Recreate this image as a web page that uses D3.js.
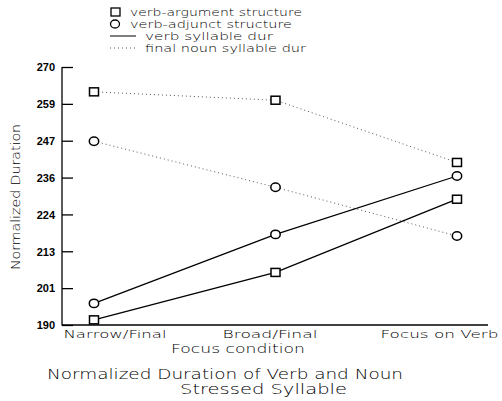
<!DOCTYPE html>
<html><head><meta charset="utf-8">
<script src="https://cdn.jsdelivr.net/npm/d3@7"></script>
<style>body{margin:0;background:#fff}svg{display:block}text{font-family:"DejaVu Sans",sans-serif;font-weight:200;fill:#000}</style>
</head><body>
<script>
const categories = ["Narrow/Final", "Broad/Final", "Focus on Verb"];
const verbArgVerb = [191.6, 206.3, 229.0];
const verbAdjVerb = [196.7, 218.1, 236.2];
const verbArgNoun = [262.3, 259.7, 240.4];
const verbAdjNoun = [247.0, 232.7, 217.6];
const yTickValues = [190, 201.43, 212.86, 224.29, 235.71, 247.14, 258.57, 270];
const yTickLabels = ["190", "201", "213", "224", "236", "247", "259", "270"];

const series = [
  {values: verbArgNoun, marker: "square", dotted: true},
  {values: verbAdjNoun, marker: "circle", dotted: true},
  {values: verbAdjVerb, marker: "circle", dotted: false},
  {values: verbArgVerb, marker: "square", dotted: false}
];

const W = 502, H = 401;
const svg = d3.select("body").append("svg").attr("width", W).attr("height", H);

const x = d3.scalePoint().domain(categories).range([94, 457]);
const y = d3.scaleLinear().domain([190, 270]).range([325, 67]);

// y axis
const yAxis = d3.axisRight(y).tickValues(yTickValues).tickSize(11)
  .tickFormat((d, i) => yTickLabels[i]);
const gy = svg.append("g").attr("transform", "translate(62,0)").call(yAxis);
gy.select(".domain").attr("stroke", "#000").attr("stroke-width", 1.3).attr("d", "M0,67V325.5");
gy.selectAll(".tick line").attr("stroke", "#000").attr("stroke-width", 1.3);
gy.selectAll(".tick text").attr("x", -7).attr("dy", "0.35em").attr("text-anchor", "end")
  .style("font-size", "11px").style("font-weight", "bold").style("font-family", "Liberation Sans, sans-serif");

// x axis
const xAxis = d3.axisBottom(x).tickSize(0);
const gx = svg.append("g").attr("transform", "translate(0,325)").call(xAxis);
gx.select(".domain").attr("stroke", "#000").attr("stroke-width", 1.3).attr("d", "M62,0H488");
const xLabelLeft = [63, 222, 380], xLabelWidth = [103, 95, 118];
gx.selectAll(".tick text").attr("y", 13).attr("dy", 0).style("font-size", "10.5px")
  .each(function(d, i) {
    d3.select(this).attr("text-anchor", "start").attr("x", xLabelLeft[i] - x(d))
      .attr("textLength", xLabelWidth[i]).attr("lengthAdjust", "spacingAndGlyphs");
  });

// lines
const line = d3.line().x((d, i) => x(categories[i])).y(d => y(d));
series.forEach(s => {
  svg.append("path").datum(s.values).attr("d", line).attr("fill", "none")
    .attr("stroke", s.dotted ? "#555" : "#000")
    .attr("stroke-width", s.dotted ? 1 : 1.3)
    .attr("stroke-dasharray", s.dotted ? "1,3" : null);
});
// markers
series.forEach(s => {
  s.values.forEach((v, i) => {
    const cx = x(categories[i]), cy = y(v);
    if (s.marker === "square") {
      svg.append("rect").attr("x", cx - 4.5).attr("y", cy - 4).attr("width", 9).attr("height", 8)
        .attr("fill", "#fff").attr("stroke", "#000").attr("stroke-width", 1.5);
    } else {
      svg.append("ellipse").attr("cx", cx).attr("cy", cy).attr("rx", 4.7).attr("ry", 4.2)
        .attr("fill", "#fff").attr("stroke", "#000").attr("stroke-width", 1.5);
    }
  });
});

// legend
const legend = [
  {label: "verb-argument structure", type: "square"},
  {label: "verb-adjunct structure", type: "circle"},
  {label: "verb syllable dur", type: "solid"},
  {label: "final noun syllable dur", type: "dotted"}
];
const legendWidths = [172, 162, 128, 161];
legend.forEach((l, i) => {
  const cy = 12 + i * 12;
  if (l.type === "square") {
    svg.append("rect").attr("x", 111).attr("y", cy - 4).attr("width", 9).attr("height", 8)
      .attr("fill", "#fff").attr("stroke", "#000").attr("stroke-width", 1.3);
  } else if (l.type === "circle") {
    svg.append("ellipse").attr("cx", 115).attr("cy", cy).attr("rx", 4.5).attr("ry", 4)
      .attr("fill", "#fff").attr("stroke", "#000").attr("stroke-width", 1.3);
  } else {
    svg.append("line").attr("x1", 110).attr("x2", 136).attr("y1", cy).attr("y2", cy)
      .attr("stroke", l.type === "dotted" ? "#555" : "#000").attr("stroke-width", 1)
      .attr("stroke-dasharray", l.type === "dotted" ? "1,3" : null);
  }
  const tx = (l.type === "square" || l.type === "circle") ? 130 : 145;
  svg.append("text").attr("x", tx).attr("y", cy + 3.5).text(l.label)
    .style("font-size", "10px").attr("textLength", legendWidths[i]).attr("lengthAdjust", "spacingAndGlyphs");
});

// axis titles
svg.append("text").attr("x", 171).attr("y", 353).text("Focus condition")
  .style("font-size", "12.5px").attr("textLength", 134).attr("lengthAdjust", "spacingAndGlyphs");
svg.append("text").attr("transform", "translate(20,197) rotate(-90)").attr("text-anchor", "middle")
  .text("Normalized Duration").style("font-size", "13px").attr("textLength", 146).attr("lengthAdjust", "spacingAndGlyphs");

// chart title
svg.append("text").attr("x", 47).attr("y", 379).text("Normalized Duration of Verb and Noun")
  .style("font-size", "13.5px").attr("textLength", 356).attr("lengthAdjust", "spacingAndGlyphs");
svg.append("text").attr("x", 180).attr("y", 394).text("Stressed Syllable")
  .style("font-size", "13.5px").attr("textLength", 167).attr("lengthAdjust", "spacingAndGlyphs");
</script>
</body></html>
